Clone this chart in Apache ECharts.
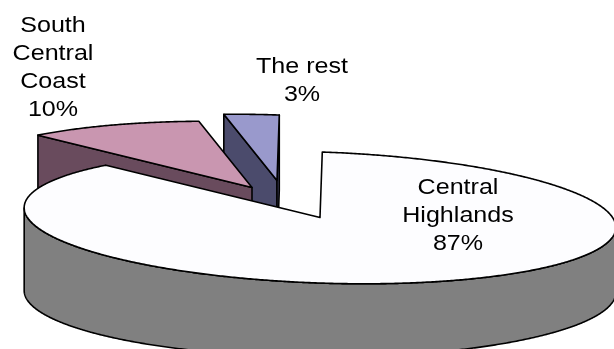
<!DOCTYPE html>
<html><head><meta charset="utf-8">
<script src="https://cdn.jsdelivr.net/npm/echarts@6/dist/echarts.min.js"></script>
<style>html,body{margin:0;padding:0;background:#fff}#c{width:614px;height:349px}</style>
</head><body><div id="c"></div>
<script>
const categories = ['Central Highlands', 'South Central Coast', 'The rest'];
const labelLines = [['Central', 'Highlands'], ['South', 'Central', 'Coast'], ['The rest']];
const values = [87, 10, 3];

const style = {
  cx: 320, cy: 217.5, rx: 296, ry: 65.5, depth: 74, depthSlope: -0.03, tilt: 2 * Math.PI / 180,
  topColors: ['#FDFDFF', '#C996B0', '#9999CC'],
  sideColors: ['#808080', '#694B5D', '#4B4B6C'],
  explode: [[0, 0], [-68, -30], [-43, -37]],
  labelPos: [[458, 216], [53, 68], [302, 81]],
  zOrder: [30, 20, 10],
  font: '22px "Liberation Sans", Arial, sans-serif',
  labelScaleX: 1.14,
  lineHeight: 28
};

const total = values.reduce((a, b) => a + b, 0);
const starts = [], ends = [];
let acc = 0;
values.forEach(v => { starts.push(acc / total * 2 * Math.PI); acc += v; ends.push(acc / total * 2 * Math.PI); });

function depthAt(x) { return style.depth + style.depthSlope * (x - style.cx); }
function pt(theta, off, down) {
  const c = Math.cos(style.tilt), s = Math.sin(style.tilt);
  const u = style.rx * Math.sin(theta), v = -style.ry * Math.cos(theta);
  const x = style.cx + off[0] + u * c - v * s;
  const y = style.cy + off[1] + u * s + v * c;
  return [x, y + (down ? depthAt(x) : 0)];
}
function dxdt(theta) {
  const c = Math.cos(style.tilt), s = Math.sin(style.tilt);
  return style.rx * Math.cos(theta) * c - style.ry * Math.sin(theta) * s;
}

function renderItem(params, api) {
  const i = params.dataIndex;
  const a1 = starts[i], a2 = ends[i];
  const off = style.explode[i];
  const z = style.zOrder[i];
  const center = [style.cx + off[0], style.cy + off[1]];
  const centerD = [center[0], center[1] + depthAt(center[0])];
  const lineStyle = { stroke: '#000', lineWidth: 1.6, lineJoin: 'round' };
  const children = [];
  const n = Math.max(4, Math.ceil((a2 - a1) / (0.4 * Math.PI / 180)));
  const samples = [];
  for (let k = 0; k <= n; k++) samples.push(a1 + (a2 - a1) * k / n);

  let run = [];
  const flush = () => {
    if (run.length > 1) {
      const topPts = run.map(t => pt(t, off, false));
      const botPts = run.slice().reverse().map(t => pt(t, off, true));
      children.push({ type: 'polygon', z2: z + 1, shape: { points: topPts.concat(botPts) },
        style: Object.assign({ fill: style.sideColors[i] }, lineStyle) });
    }
    run = [];
  };
  samples.forEach(t => { if (dxdt(t) < 0) run.push(t); else flush(); });
  flush();

  const pS = pt(a1, off, false), pE = pt(a2, off, false);
  if (pS[0] - center[0] < -0.5) {
    children.push({ type: 'polygon', z2: z + 1, shape: { points: [center, pS, pt(a1, off, true), centerD] },
      style: Object.assign({ fill: style.sideColors[i] }, lineStyle) });
  }
  if (pE[0] - center[0] > 0.5) {
    children.push({ type: 'polygon', z2: z + 1, shape: { points: [center, pE, pt(a2, off, true), centerD] },
      style: Object.assign({ fill: style.sideColors[i] }, lineStyle) });
  }
  const topPts = [center].concat(samples.map(t => pt(t, off, false)));
  children.push({ type: 'polygon', z2: z + 5, shape: { points: topPts },
    style: Object.assign({ fill: style.topColors[i] }, lineStyle) });
  return { type: 'group', children: children };
}

const chart = echarts.init(document.getElementById('c'));
chart.setOption({
  animation: false,
  series: [{
    type: 'custom',
    coordinateSystem: 'none',
    renderItem: renderItem,
    data: values.map((v, i) => ({ name: categories[i], value: [v] }))
  }],
  graphic: values.map((v, i) => ({
    type: 'text',
    x: style.labelPos[i][0], y: style.labelPos[i][1],
    scaleX: style.labelScaleX,
    z: 100,
    style: {
      text: labelLines[i].join('\n') + '\n' + v + '%',
      font: style.font, fill: '#000',
      textAlign: 'center', textVerticalAlign: 'middle', lineHeight: style.lineHeight
    }
  }))
});
</script></body></html>
